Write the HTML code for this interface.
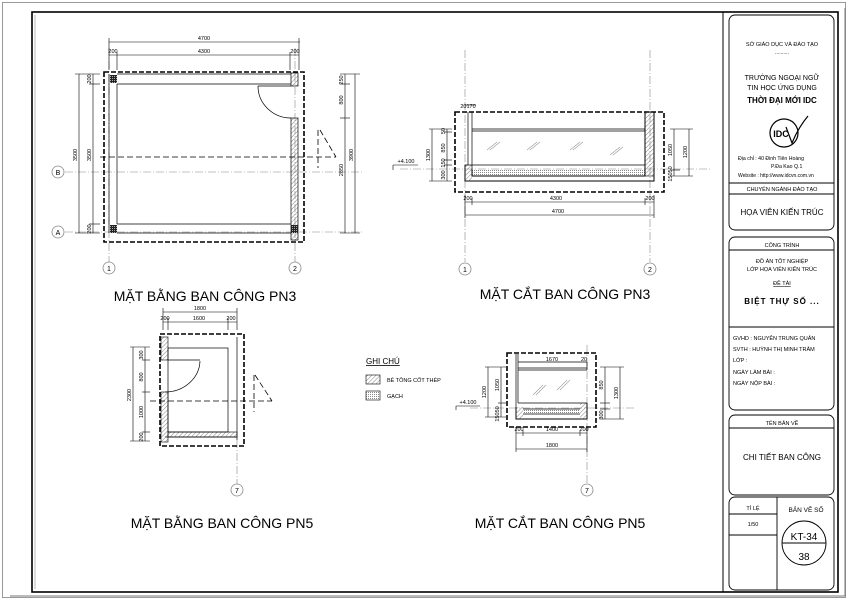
<!DOCTYPE html>
<html><head><meta charset="utf-8"><style>
html,body{margin:0;padding:0;background:#fff;}
svg{display:block;}
text{font-family:"Liberation Sans","DejaVu Sans",sans-serif;fill:#000;}
</style></head><body>
<svg width="850" height="601" viewBox="0 0 850 601" xmlns="http://www.w3.org/2000/svg">
<defs>
<pattern id="h1" width="3" height="3" patternUnits="userSpaceOnUse" patternTransform="rotate(45)"><line x1="0" y1="0" x2="0" y2="3" stroke="#666" stroke-width="0.8"/></pattern>
<pattern id="dots" width="2" height="2" patternUnits="userSpaceOnUse"><rect width="1" height="1" fill="#888"/></pattern>
<pattern id="blk" width="2" height="2" patternUnits="userSpaceOnUse"><rect width="2" height="2" fill="#222"/><rect width="1" height="1" fill="#aaa"/></pattern>
</defs>
<!-- frames -->
<rect x="2.5" y="2.5" width="843" height="595" fill="none" stroke="#999" stroke-width="1"/>
<rect x="32" y="12" width="806" height="580" fill="none" stroke="#000" stroke-width="1.6"/>
<line x1="35" y1="15" x2="35" y2="589" stroke="#bbb"/>
<line x1="723" y1="12" x2="723" y2="592" stroke="#000" stroke-width="1"/>
<line x1="845" y1="8" x2="845" y2="596" stroke="#777"/>
<line x1="10" y1="596" x2="845" y2="596" stroke="#777"/>

<!-- title block -->
<g fill="none" stroke="#000" stroke-width="0.9">
<rect x="729" y="15" width="105" height="215" rx="6"/>
<line x1="729" y1="183" x2="834" y2="183"/><line x1="729" y1="194" x2="834" y2="194"/>
<rect x="729" y="237" width="105" height="173" rx="6"/>
<line x1="729" y1="250" x2="834" y2="250"/><line x1="729" y1="327" x2="834" y2="327"/>
<rect x="729" y="415" width="105" height="80" rx="6"/>
<line x1="729" y1="428" x2="834" y2="428"/>
<rect x="729" y="497" width="105" height="93" rx="6"/>
<line x1="777" y1="497" x2="777" y2="590"/>
<line x1="729" y1="514" x2="777" y2="514"/><line x1="729" y1="535" x2="777" y2="535"/>
<circle cx="804" cy="543" r="22"/>
<line x1="782" y1="543" x2="826" y2="543"/>
<circle cx="784" cy="133" r="14" stroke-width="1.2"/>
<path d="M786 127 L792 143 Q798 128 808 116" stroke-width="1.2"/>
</g>
<g text-anchor="middle">
<text x="782" y="46" font-size="5.5">SỞ GIÁO DỤC VÀ ĐÀO TẠO</text>
<text x="782" y="54" font-size="5">..........</text>
<text x="782" y="80" font-size="7">TRƯỜNG NGOẠI NGỮ</text>
<text x="782" y="90" font-size="7">TIN HỌC ỨNG DỤNG</text>
<text x="782" y="103" font-size="8" font-weight="bold">THỜI ĐẠI MỚI IDC</text>
<text x="781" y="137" font-size="9" font-weight="bold" font-family="Liberation Serif">IDC</text>
<text x="782" y="191" font-size="5.5">CHUYÊN NGÀNH ĐÀO TẠO</text>
<text x="782" y="215" font-size="8">HỌA VIÊN KIẾN TRÚC</text>
<text x="782" y="247" font-size="5.5">CÔNG TRÌNH</text>
<text x="782" y="263" font-size="5.5">ĐỒ ÁN TỐT NGHIỆP</text>
<text x="782" y="271" font-size="5.5">LỚP HỌA VIÊN KIẾN TRÚC</text>
<text x="782" y="285" font-size="5.5" text-decoration="underline">ĐỀ TÀI</text>
<text x="782" y="304" font-size="8" font-weight="bold" letter-spacing="1">BIỆT THỰ SỐ ...</text>
<text x="782" y="425" font-size="5.5">TÊN BẢN VẼ</text>
<text x="782" y="460" font-size="8">CHI TIẾT BAN CÔNG</text>
<text x="753" y="510" font-size="5.5">TỈ LỆ</text>
<text x="753" y="526" font-size="5.5">1/50</text>
<text x="806" y="512" font-size="6.5">BẢN VẼ SỐ</text>
<text x="804" y="540" font-size="10">KT-34</text>
<text x="804" y="560" font-size="10">38</text>
</g>
<text x="738" y="160" font-size="5.2">Địa chỉ  : 40 Đinh Tiên Hoàng</text>
<text x="771" y="168" font-size="5.2">P.Đa Kao   Q.1</text>
<text x="738" y="177" font-size="5">Website : http://www.idcvn.com.vn</text>
<g font-size="5.5">
<text x="733" y="340">GVHD  : NGUYỄN TRUNG QUÂN</text>
<text x="733" y="351">SVTH  : HUỲNH THỊ MINH TRÂM</text>
<text x="733" y="362">LỚP     :</text>
<text x="733" y="374">NGÀY LÀM BÀI  :</text>
<text x="733" y="385">NGÀY NỘP BÀI  :</text>
</g>

<!-- ===== PLAN PN3 ===== -->
<g stroke="#888" stroke-width="0.6" stroke-dasharray="8,2,1,2" fill="none">
<line x1="109" y1="48" x2="109" y2="262"/><line x1="295" y1="48" x2="295" y2="262"/>
<line x1="65" y1="172" x2="364" y2="172"/><line x1="65" y1="232" x2="364" y2="232"/>
</g>
<g fill="#fff" stroke="#888" stroke-width="0.8">
<circle cx="109" cy="268" r="6"/><circle cx="295" cy="268" r="6"/>
<circle cx="58" cy="172" r="6"/><circle cx="58" cy="232" r="6"/>
</g>
<g font-size="7" text-anchor="middle"><text x="109" y="271">1</text><text x="295" y="271">2</text><text x="58" y="175">B</text><text x="58" y="235">A</text></g>
<rect x="104" y="72" width="200" height="170" fill="none" stroke="#000" stroke-width="1.6" stroke-dasharray="5,2"/>
<g fill="none" stroke="#000" stroke-width="0.7">
<line x1="117" y1="74" x2="291" y2="74"/><line x1="117" y1="84" x2="291" y2="84"/>
<line x1="117" y1="224" x2="291" y2="224"/><line x1="117" y1="233" x2="291" y2="233"/>
<line x1="117" y1="84" x2="117" y2="224"/><line x1="109" y1="74" x2="109" y2="233"/>
<line x1="258" y1="86" x2="291" y2="86"/>
<path d="M258 86 A33 32 0 0 0 291 118"/>
</g>
<rect x="291" y="73" width="7" height="13" fill="url(#h1)" stroke="#000" stroke-width="0.7"/>
<rect x="291" y="118" width="7" height="122" fill="url(#h1)" stroke="#000" stroke-width="0.7"/>
<rect x="110" y="75" width="7" height="8" fill="url(#blk)"/>
<rect x="110" y="225" width="7" height="8" fill="url(#blk)"/>
<rect x="291" y="225" width="7" height="8" fill="url(#blk)"/>
<g stroke="#000" stroke-width="0.8" fill="none" stroke-dasharray="6,3">
<line x1="100" y1="157" x2="336" y2="157"/><line x1="318" y1="130" x2="318" y2="168"/><line x1="320" y1="130" x2="336" y2="157"/>
</g>
<g stroke="#000" stroke-width="0.6" fill="none">
<line x1="109" y1="42" x2="300" y2="42"/><line x1="109" y1="55" x2="299" y2="55"/>
<line x1="109" y1="38" x2="109" y2="70"/><line x1="117" y1="52" x2="117" y2="70"/><line x1="290" y1="52" x2="290" y2="70"/><line x1="299" y1="38" x2="299" y2="70"/>
<line x1="79" y1="74" x2="79" y2="233"/><line x1="93" y1="74" x2="93" y2="233"/>
<line x1="75" y1="74" x2="100" y2="74"/><line x1="75" y1="233" x2="100" y2="233"/><line x1="89" y1="84" x2="100" y2="84"/><line x1="89" y1="224" x2="100" y2="224"/>
<line x1="345" y1="74" x2="345" y2="233"/><line x1="355" y1="74" x2="355" y2="233"/>
<line x1="340" y1="74" x2="360" y2="74"/><line x1="340" y1="233" x2="360" y2="233"/><line x1="340" y1="118" x2="350" y2="118"/><line x1="340" y1="84" x2="350" y2="84"/>
</g>
<g font-size="5.5" text-anchor="middle">
<text x="204" y="40">4700</text><text x="204" y="53">4300</text><text x="113" y="53">200</text><text x="295" y="53">200</text>
<text transform="translate(77,155) rotate(-90)">3500</text><text transform="translate(91,155) rotate(-90)">3500</text>
<text transform="translate(91,79) rotate(-90)">200</text><text transform="translate(91,229) rotate(-90)">200</text>
<text transform="translate(343,100) rotate(-90)">800</text><text transform="translate(343,170) rotate(-90)">2850</text><text transform="translate(343,80) rotate(-90)">250</text>
<text transform="translate(353,155) rotate(-90)">3900</text>
</g>
<text x="205" y="301" font-size="14" text-anchor="middle">MẶT BẰNG BAN CÔNG PN3</text>

<!-- ===== SECTION PN3 ===== -->
<g stroke="#888" stroke-width="0.6" stroke-dasharray="8,2,1,2" fill="none">
<line x1="465" y1="50" x2="465" y2="262"/><line x1="650" y1="50" x2="650" y2="262"/>
<line x1="400" y1="169" x2="710" y2="169"/>
</g>
<g fill="#fff" stroke="#888" stroke-width="0.8"><circle cx="465" cy="269" r="6"/><circle cx="650" cy="269" r="6"/></g>
<g font-size="7" text-anchor="middle"><text x="465" y="272">1</text><text x="650" y="272">2</text></g>
<rect x="455" y="112" width="209" height="80" fill="none" stroke="#000" stroke-width="1.6" stroke-dasharray="5,2"/>
<rect x="472" y="170" width="173" height="6" fill="url(#dots)"/>
<path d="M465 165 V181 H654 V112 H645 V176 H472 V170" fill="none" stroke="#000" stroke-width="1"/>
<rect x="645" y="112" width="9" height="64" fill="url(#h1)" stroke="#000" stroke-width="0.6"/>
<rect x="465" y="165" width="7" height="16" fill="url(#h1)"/>
<g stroke="#000" stroke-width="0.7" fill="none">
<line x1="465" y1="165" x2="645" y2="165"/>
<line x1="472" y1="129" x2="645" y2="129"/><line x1="472" y1="131" x2="645" y2="131"/>
<line x1="468" y1="112" x2="468" y2="165"/><line x1="472" y1="112" x2="472" y2="170"/>
</g>
<g stroke="#999" stroke-width="0.6">
<line x1="487" y1="150" x2="497" y2="142"/><line x1="490" y1="150" x2="500" y2="142"/>
<line x1="527" y1="150" x2="537" y2="142"/><line x1="530" y1="150" x2="540" y2="142"/>
<line x1="570" y1="150" x2="580" y2="142"/><line x1="573" y1="150" x2="583" y2="142"/>
<line x1="610" y1="155" x2="620" y2="147"/><line x1="613" y1="155" x2="623" y2="147"/>
</g>
<g stroke="#000" stroke-width="0.6" fill="none">
<line x1="432" y1="129" x2="432" y2="181"/><line x1="447" y1="129" x2="447" y2="181"/>
<line x1="429" y1="129" x2="452" y2="129"/><line x1="429" y1="181" x2="452" y2="181"/><line x1="444" y1="165" x2="452" y2="165"/><line x1="444" y1="160" x2="452" y2="160"/><line x1="444" y1="132" x2="452" y2="132"/>
<line x1="674" y1="129" x2="674" y2="176"/><line x1="689" y1="129" x2="689" y2="176"/>
<line x1="670" y1="129" x2="693" y2="129"/><line x1="670" y1="176" x2="693" y2="176"/><line x1="670" y1="170" x2="680" y2="170"/>
<line x1="465" y1="202" x2="654" y2="202"/><line x1="465" y1="215" x2="654" y2="215"/>
<line x1="465" y1="195" x2="465" y2="218"/><line x1="472" y1="198" x2="472" y2="205"/><line x1="645" y1="198" x2="645" y2="205"/><line x1="654" y1="195" x2="654" y2="218"/>
<line x1="465" y1="105" x2="476" y2="105"/>
<line x1="393" y1="165" x2="393" y2="170"/><line x1="393" y1="165" x2="418" y2="165"/>
</g>
<g font-size="5.5" text-anchor="middle">
<text x="468" y="108">20170</text>
<text transform="translate(430,155) rotate(-90)">1300</text>
<text transform="translate(445,148) rotate(-90)">850</text><text transform="translate(445,175) rotate(-90)">300</text><text transform="translate(445,163) rotate(-90)">150</text><text transform="translate(445,131) rotate(-90)">50</text>
<text transform="translate(672,150) rotate(-90)">1050</text><text transform="translate(687,152) rotate(-90)">1200</text><text transform="translate(672,174) rotate(-90)">15050</text>
<text x="468" y="200">200</text><text x="556" y="200">4300</text><text x="650" y="200">200</text><text x="558" y="213">4700</text>
<text x="406" y="163">+4.100</text>
</g>
<text x="565" y="299" font-size="14" text-anchor="middle">MẶT CẮT BAN CÔNG PN3</text>

<!-- ===== PLAN PN5 ===== -->
<line x1="237" y1="440" x2="237" y2="484" stroke="#888" stroke-width="0.6" stroke-dasharray="8,2,1,2"/>
<circle cx="237" cy="490" r="6" fill="#fff" stroke="#888" stroke-width="0.8"/>
<text x="237" y="493" font-size="7" text-anchor="middle">7</text>
<rect x="160" y="334" width="84" height="112" fill="none" stroke="#000" stroke-width="1.6" stroke-dasharray="5,2"/>
<g stroke="#000" stroke-width="0.7" fill="none">
<rect x="168" y="348" width="60" height="84"/>
<line x1="168" y1="360" x2="200" y2="360"/>
<path d="M200 361 A35 32 0 0 1 165 392"/>
<line x1="165" y1="437" x2="237" y2="437"/><line x1="237" y1="337" x2="237" y2="440"/>
</g>
<rect x="161" y="337" width="7" height="23" fill="url(#h1)" stroke="#000" stroke-width="0.6"/>
<rect x="161" y="392" width="7" height="50" fill="url(#h1)" stroke="#000" stroke-width="0.6"/>
<rect x="168" y="432" width="69" height="5" fill="url(#h1)" stroke="#000" stroke-width="0.6"/>
<g stroke="#000" stroke-width="0.8" fill="none" stroke-dasharray="6,3">
<line x1="150" y1="401" x2="272" y2="401"/><line x1="254" y1="375" x2="254" y2="412"/><line x1="255" y1="375" x2="272" y2="401"/>
</g>
<g stroke="#000" stroke-width="0.6" fill="none">
<line x1="163" y1="312" x2="237" y2="312"/><line x1="163" y1="322" x2="237" y2="322"/>
<line x1="163" y1="308" x2="163" y2="330"/><line x1="168" y1="318" x2="168" y2="330"/><line x1="228" y1="318" x2="228" y2="330"/><line x1="237" y1="308" x2="237" y2="330"/>
<line x1="133" y1="347" x2="133" y2="441"/><line x1="145" y1="347" x2="145" y2="441"/>
<line x1="130" y1="347" x2="150" y2="347"/><line x1="130" y1="441" x2="150" y2="441"/><line x1="142" y1="360" x2="150" y2="360"/><line x1="142" y1="392" x2="150" y2="392"/><line x1="142" y1="432" x2="150" y2="432"/>
</g>
<g font-size="5.5" text-anchor="middle">
<text x="200" y="310">1800</text><text x="199" y="320">1600</text><text x="165" y="320">200</text><text x="231" y="320">200</text>
<text transform="translate(131,395) rotate(-90)">2300</text>
<text transform="translate(143,355) rotate(-90)">300</text><text transform="translate(143,377) rotate(-90)">800</text><text transform="translate(143,412) rotate(-90)">1000</text><text transform="translate(143,437) rotate(-90)">200</text>
</g>
<text x="222" y="528" font-size="14" text-anchor="middle">MẶT BẰNG BAN CÔNG PN5</text>

<!-- legend -->
<text x="366" y="364" font-size="8" text-decoration="underline">GHI CHÚ</text>
<rect x="366" y="375" width="14" height="9" fill="url(#h1)" stroke="#000" stroke-width="0.6"/>
<rect x="366" y="391" width="14" height="9" fill="url(#dots)" stroke="#000" stroke-width="0.6"/>
<text x="387" y="382" font-size="5.5">BÊ TÔNG CỐT THÉP</text>
<text x="387" y="398" font-size="5.5">GẠCH</text>

<!-- ===== SECTION PN5 ===== -->
<g stroke="#888" stroke-width="0.6" stroke-dasharray="8,2,1,2" fill="none">
<line x1="587" y1="345" x2="587" y2="484"/><line x1="470" y1="408" x2="635" y2="408"/>
</g>
<circle cx="587" cy="490" r="6" fill="#fff" stroke="#888" stroke-width="0.8"/>
<text x="587" y="493" font-size="7" text-anchor="middle">7</text>
<rect x="507" y="353" width="89" height="74" fill="none" stroke="#000" stroke-width="1.6" stroke-dasharray="5,2"/>
<rect x="523" y="409" width="57" height="5" fill="url(#dots)"/>
<path d="M516 407 V419 H587 V403" fill="none" stroke="#000" stroke-width="1"/>
<rect x="516" y="407" width="7" height="12" fill="url(#h1)"/>
<rect x="580" y="403" width="7" height="16" fill="url(#h1)"/>
<g stroke="#000" stroke-width="0.7" fill="none">
<line x1="516" y1="354" x2="516" y2="407"/><line x1="518" y1="354" x2="518" y2="403"/>
<line x1="518" y1="368" x2="587" y2="368"/><line x1="518" y1="370" x2="587" y2="370"/>
<line x1="518" y1="403" x2="587" y2="403"/><line x1="523" y1="409" x2="580" y2="409"/><line x1="523" y1="414" x2="580" y2="414"/>
<line x1="518" y1="362" x2="587" y2="362"/><line x1="587" y1="362" x2="587" y2="370"/>
</g>
<g stroke="#999" stroke-width="0.6"><line x1="533" y1="395" x2="543" y2="385"/><line x1="536" y1="395" x2="546" y2="385"/><line x1="557" y1="390" x2="567" y2="380"/><line x1="560" y1="390" x2="570" y2="380"/></g>
<g stroke="#000" stroke-width="0.6" fill="none">
<line x1="488" y1="367" x2="488" y2="417"/><line x1="501" y1="367" x2="501" y2="417"/>
<line x1="485" y1="367" x2="506" y2="367"/><line x1="485" y1="417" x2="506" y2="417"/><line x1="498" y1="403" x2="506" y2="403"/>
<line x1="605" y1="367" x2="605" y2="419"/><line x1="620" y1="367" x2="620" y2="419"/>
<line x1="600" y1="367" x2="624" y2="367"/><line x1="600" y1="419" x2="624" y2="419"/><line x1="600" y1="403" x2="610" y2="403"/><line x1="600" y1="409" x2="610" y2="409"/>
<line x1="516" y1="433" x2="587" y2="433"/><line x1="516" y1="449" x2="587" y2="449"/>
<line x1="516" y1="428" x2="516" y2="452"/><line x1="523" y1="430" x2="523" y2="436"/><line x1="580" y1="430" x2="580" y2="436"/><line x1="587" y1="428" x2="587" y2="452"/>
<line x1="456" y1="406" x2="456" y2="410"/><line x1="456" y1="406" x2="480" y2="406"/>
</g>
<g font-size="5.5" text-anchor="middle">
<text x="552" y="361">1670</text><text x="584" y="361">20</text>
<text transform="translate(486,392) rotate(-90)">1200</text><text transform="translate(499,385) rotate(-90)">1050</text><text transform="translate(499,414) rotate(-90)">15050</text>
<text transform="translate(603,385) rotate(-90)">850</text><text transform="translate(618,393) rotate(-90)">1300</text><text transform="translate(603,415) rotate(-90)">300</text>
<text x="519" y="431">200</text><text x="552" y="431">1400</text><text x="584" y="431">200</text><text x="552" y="447">1800</text>
<text x="468" y="404">+4.100</text>
</g>
<text x="560" y="528" font-size="14" text-anchor="middle">MẶT CẮT BAN CÔNG PN5</text>
</svg>
</body></html>
